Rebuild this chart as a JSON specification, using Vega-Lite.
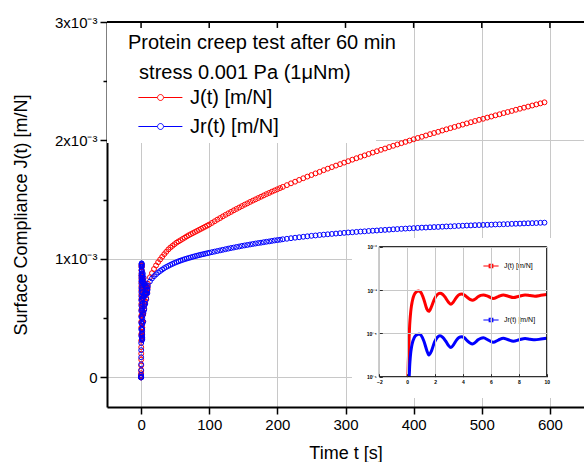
{
  "$schema": "https://vega.github.io/schema/vega-lite/v6.json",
  "width": 477,
  "height": 385,
  "autosize": {"type": "none"},
  "padding": {"left": 107, "top": 22, "right": 0, "bottom": 55},
  "background": "white",
  "config": {
    "view": {"stroke": null},
    "font": "Liberation Sans",
    "axis": {"labelFont": "Liberation Sans", "titleFont": "Liberation Sans", "labelColor": "black", "titleColor": "black"},
    "legend": {"labelFont": "Liberation Sans", "titleFont": "Liberation Sans"}
  },
  "datasets": {
    "main": [
      {"t":0,"J":0,"Jr":0},{"t":0.025,"J":0,"Jr":0},{"t":0.05,"J":0.01e-3,"Jr":0},{"t":0.075,"J":0.02e-3,"Jr":0.005e-3},
      {"t":0.1,"J":0.035e-3,"Jr":0.02e-3},{"t":0.125,"J":0.06e-3,"Jr":0.06e-3},{"t":0.15,"J":0.1e-3,"Jr":0.11e-3},{"t":0.175,"J":0.15e-3,"Jr":0.17e-3},
      {"t":0.2,"J":0.2e-3,"Jr":0.23e-3},{"t":0.225,"J":0.255e-3,"Jr":0.29e-3},{"t":0.25,"J":0.31e-3,"Jr":0.35e-3},{"t":0.275,"J":0.365e-3,"Jr":0.405e-3},
      {"t":0.3,"J":0.42e-3,"Jr":0.46e-3},{"t":0.325,"J":0.47e-3,"Jr":0.51e-3},{"t":0.35,"J":0.52e-3,"Jr":0.56e-3},{"t":0.375,"J":0.57e-3,"Jr":0.605e-3},
      {"t":0.4,"J":0.62e-3,"Jr":0.65e-3},{"t":0.425,"J":0.66e-3,"Jr":0.685e-3},{"t":0.45,"J":0.7e-3,"Jr":0.72e-3},{"t":0.475,"J":0.735e-3,"Jr":0.755e-3},
      {"t":0.5,"J":0.77e-3,"Jr":0.79e-3},{"t":0.525,"J":0.8e-3,"Jr":0.815e-3},{"t":0.55,"J":0.83e-3,"Jr":0.84e-3},{"t":0.575,"J":0.85e-3,"Jr":0.86e-3},
      {"t":0.6,"J":0.87e-3,"Jr":0.88e-3},{"t":0.65,"J":0.9e-3,"Jr":0.91e-3},{"t":0.7,"J":0.93e-3,"Jr":0.935e-3},{"t":0.75,"J":0.945e-3,"Jr":0.95e-3},
      {"t":0.8,"J":0.95e-3,"Jr":0.96e-3},{"t":0.85,"J":0.945e-3,"Jr":0.963e-3},{"t":0.9,"J":0.93e-3,"Jr":0.955e-3},{"t":0.95,"J":0.9e-3,"Jr":0.935e-3},
      {"t":1.0,"J":0.86e-3,"Jr":0.9e-3},{"t":1.05,"J":0.81e-3,"Jr":0.86e-3},{"t":1.1,"J":0.75e-3,"Jr":0.81e-3},{"t":1.15,"J":0.68e-3,"Jr":0.74e-3},
      {"t":1.2,"J":0.6e-3,"Jr":0.66e-3},{"t":1.25,"J":0.53e-3,"Jr":0.58e-3},{"t":1.3,"J":0.47e-3,"Jr":0.51e-3},{"t":1.35,"J":0.415e-3,"Jr":0.45e-3},
      {"t":1.4,"J":0.37e-3,"Jr":0.41e-3},{"t":1.45,"J":0.345e-3,"Jr":0.37e-3},{"t":1.5,"J":0.325e-3,"Jr":0.335e-3},{"t":1.55,"J":0.322e-3,"Jr":0.316e-3},
      {"t":1.6,"J":0.33e-3,"Jr":0.32e-3},{"t":1.65,"J":0.35e-3,"Jr":0.335e-3},{"t":1.7,"J":0.385e-3,"Jr":0.365e-3},{"t":1.75,"J":0.42e-3,"Jr":0.4e-3},
      {"t":1.8,"J":0.47e-3,"Jr":0.45e-3},{"t":1.85,"J":0.52e-3,"Jr":0.5e-3},{"t":1.9,"J":0.57e-3,"Jr":0.56e-3},{"t":1.95,"J":0.62e-3,"Jr":0.62e-3},
      {"t":2.0,"J":0.67e-3,"Jr":0.67e-3},{"t":2.05,"J":0.71e-3,"Jr":0.72e-3},{"t":2.1,"J":0.75e-3,"Jr":0.765e-3},{"t":2.15,"J":0.78e-3,"Jr":0.8e-3},
      {"t":2.2,"J":0.805e-3,"Jr":0.83e-3},{"t":2.25,"J":0.825e-3,"Jr":0.855e-3},{"t":2.3,"J":0.835e-3,"Jr":0.87e-3},{"t":2.35,"J":0.84e-3,"Jr":0.88e-3},
      {"t":2.55,"J":0.79e-3,"Jr":0.81e-3},{"t":2.75,"J":0.66e-3,"Jr":0.67e-3},{"t":2.95,"J":0.53e-3,"Jr":0.53e-3},{"t":3.14,"J":0.47e-3,"Jr":0.47e-3},
      {"t":3.33,"J":0.54e-3,"Jr":0.55e-3},{"t":3.52,"J":0.67e-3,"Jr":0.69e-3},{"t":3.71,"J":0.78e-3,"Jr":0.8e-3},{"t":3.9,"J":0.81e-3,"Jr":0.84e-3},
      {"t":4.1,"J":0.77e-3,"Jr":0.79e-3},{"t":4.3,"J":0.68e-3,"Jr":0.68e-3},{"t":4.5,"J":0.61e-3,"Jr":0.6e-3},{"t":4.69,"J":0.58e-3,"Jr":0.57e-3},
      {"t":4.88,"J":0.62e-3,"Jr":0.62e-3},{"t":5.08,"J":0.7e-3,"Jr":0.71e-3},{"t":5.27,"J":0.755e-3,"Jr":0.77e-3},{"t":5.46,"J":0.77e-3,"Jr":0.79e-3},
      {"t":5.82,"J":0.71e-3,"Jr":0.7e-3},{"t":6.17,"J":0.64e-3,"Jr":0.62e-3},{"t":6.53,"J":0.705e-3,"Jr":0.7e-3},{"t":6.89,"J":0.77e-3,"Jr":0.77e-3},
      {"t":7.25,"J":0.72e-3,"Jr":0.71e-3},{"t":7.61,"J":0.67e-3,"Jr":0.66e-3},{"t":8.03,"J":0.72e-3,"Jr":0.71e-3},{"t":8.45,"J":0.77e-3,"Jr":0.76e-3},
      {"t":8.8,"J":0.745e-3,"Jr":0.735e-3},{"t":9.16,"J":0.72e-3,"Jr":0.71e-3},{"t":9.58,"J":0.755e-3,"Jr":0.74e-3},{"t":10,"J":0.79e-3,"Jr":0.77e-3},
      {"t":13,"J":0.845e-3,"Jr":0.81e-3},{"t":16,"J":0.88e-3,"Jr":0.835e-3},{"t":19,"J":0.915e-3,"Jr":0.854e-3},{"t":22,"J":0.945e-3,"Jr":0.87e-3},
      {"t":25,"J":0.972e-3,"Jr":0.885e-3},{"t":28,"J":0.995e-3,"Jr":0.898e-3},{"t":31,"J":1.018e-3,"Jr":0.91e-3},{"t":34,"J":1.04e-3,"Jr":0.922e-3},
      {"t":37,"J":1.06e-3,"Jr":0.932e-3},{"t":40,"J":1.08e-3,"Jr":0.941e-3},{"t":43,"J":1.096e-3,"Jr":0.95e-3},{"t":46,"J":1.11e-3,"Jr":0.958e-3},
      {"t":49,"J":1.124e-3,"Jr":0.966e-3},{"t":52,"J":1.137e-3,"Jr":0.973e-3},{"t":55,"J":1.148e-3,"Jr":0.98e-3},{"t":58,"J":1.158e-3,"Jr":0.986e-3},
      {"t":61,"J":1.169e-3,"Jr":0.992e-3},{"t":64,"J":1.179e-3,"Jr":0.998e-3},{"t":67,"J":1.19e-3,"Jr":1.003e-3},{"t":70,"J":1.2e-3,"Jr":1.008e-3},
      {"t":73,"J":1.209e-3,"Jr":1.013e-3},{"t":76,"J":1.218e-3,"Jr":1.018e-3},{"t":79,"J":1.227e-3,"Jr":1.023e-3},{"t":82,"J":1.236e-3,"Jr":1.027e-3},
      {"t":85,"J":1.245e-3,"Jr":1.032e-3},{"t":88,"J":1.254e-3,"Jr":1.036e-3},{"t":91,"J":1.263e-3,"Jr":1.04e-3},{"t":94,"J":1.272e-3,"Jr":1.044e-3},
      {"t":97,"J":1.281e-3,"Jr":1.048e-3},{"t":100,"J":1.29e-3,"Jr":1.052e-3},{"t":104,"J":1.304e-3,"Jr":1.057e-3},{"t":108,"J":1.318e-3,"Jr":1.062e-3},
      {"t":112,"J":1.332e-3,"Jr":1.067e-3},{"t":116,"J":1.345e-3,"Jr":1.072e-3},{"t":120,"J":1.359e-3,"Jr":1.077e-3},{"t":124,"J":1.372e-3,"Jr":1.082e-3},
      {"t":128,"J":1.385e-3,"Jr":1.087e-3},{"t":132,"J":1.397e-3,"Jr":1.092e-3},{"t":136,"J":1.41e-3,"Jr":1.096e-3},{"t":140,"J":1.422e-3,"Jr":1.101e-3},
      {"t":144,"J":1.434e-3,"Jr":1.105e-3},{"t":148,"J":1.446e-3,"Jr":1.11e-3},{"t":152,"J":1.458e-3,"Jr":1.114e-3},{"t":156,"J":1.469e-3,"Jr":1.118e-3},
      {"t":160,"J":1.481e-3,"Jr":1.122e-3},{"t":164,"J":1.492e-3,"Jr":1.126e-3},{"t":168,"J":1.503e-3,"Jr":1.13e-3},{"t":172,"J":1.514e-3,"Jr":1.134e-3},
      {"t":176,"J":1.525e-3,"Jr":1.137e-3},{"t":180,"J":1.536e-3,"Jr":1.141e-3},{"t":184,"J":1.547e-3,"Jr":1.145e-3},{"t":188,"J":1.557e-3,"Jr":1.148e-3},
      {"t":192,"J":1.568e-3,"Jr":1.152e-3},{"t":196,"J":1.578e-3,"Jr":1.156e-3},{"t":200,"J":1.588e-3,"Jr":1.159e-3},{"t":204,"J":1.598e-3,"Jr":1.162e-3},
      {"t":208,"J":1.608e-3,"Jr":1.166e-3},{"t":214,"J":1.623e-3,"Jr":1.17e-3},{"t":220,"J":1.638e-3,"Jr":1.175e-3},{"t":226,"J":1.652e-3,"Jr":1.179e-3},
      {"t":232,"J":1.667e-3,"Jr":1.183e-3},{"t":238,"J":1.681e-3,"Jr":1.187e-3},{"t":244,"J":1.695e-3,"Jr":1.191e-3},{"t":250,"J":1.708e-3,"Jr":1.195e-3},
      {"t":256,"J":1.722e-3,"Jr":1.198e-3},{"t":262,"J":1.735e-3,"Jr":1.202e-3},{"t":268,"J":1.749e-3,"Jr":1.205e-3},{"t":274,"J":1.762e-3,"Jr":1.208e-3},
      {"t":280,"J":1.775e-3,"Jr":1.211e-3},{"t":286,"J":1.788e-3,"Jr":1.214e-3},{"t":292,"J":1.8e-3,"Jr":1.217e-3},{"t":298,"J":1.813e-3,"Jr":1.22e-3},
      {"t":304,"J":1.825e-3,"Jr":1.223e-3},{"t":310,"J":1.838e-3,"Jr":1.225e-3},{"t":316,"J":1.85e-3,"Jr":1.228e-3},{"t":322,"J":1.862e-3,"Jr":1.231e-3},
      {"t":328,"J":1.874e-3,"Jr":1.233e-3},{"t":334,"J":1.886e-3,"Jr":1.236e-3},{"t":340,"J":1.898e-3,"Jr":1.238e-3},{"t":346,"J":1.909e-3,"Jr":1.24e-3},
      {"t":352,"J":1.921e-3,"Jr":1.243e-3},{"t":358,"J":1.932e-3,"Jr":1.245e-3},{"t":364,"J":1.944e-3,"Jr":1.247e-3},{"t":370,"J":1.955e-3,"Jr":1.25e-3},
      {"t":376,"J":1.966e-3,"Jr":1.252e-3},{"t":382,"J":1.977e-3,"Jr":1.254e-3},{"t":388,"J":1.988e-3,"Jr":1.256e-3},{"t":394,"J":1.999e-3,"Jr":1.258e-3},
      {"t":400,"J":2.01e-3,"Jr":1.26e-3},{"t":406,"J":2.021e-3,"Jr":1.262e-3},{"t":412,"J":2.031e-3,"Jr":1.264e-3},{"t":418,"J":2.042e-3,"Jr":1.265e-3},
      {"t":424,"J":2.053e-3,"Jr":1.267e-3},{"t":430,"J":2.063e-3,"Jr":1.269e-3},{"t":436,"J":2.073e-3,"Jr":1.27e-3},{"t":442,"J":2.084e-3,"Jr":1.272e-3},
      {"t":448,"J":2.094e-3,"Jr":1.274e-3},{"t":454,"J":2.104e-3,"Jr":1.275e-3},{"t":460,"J":2.114e-3,"Jr":1.277e-3},{"t":466,"J":2.124e-3,"Jr":1.279e-3},
      {"t":472,"J":2.134e-3,"Jr":1.28e-3},{"t":478,"J":2.144e-3,"Jr":1.282e-3},{"t":484,"J":2.154e-3,"Jr":1.283e-3},{"t":490,"J":2.164e-3,"Jr":1.285e-3},
      {"t":496,"J":2.174e-3,"Jr":1.286e-3},{"t":502,"J":2.183e-3,"Jr":1.287e-3},{"t":508,"J":2.193e-3,"Jr":1.288e-3},{"t":514,"J":2.202e-3,"Jr":1.289e-3},
      {"t":520,"J":2.212e-3,"Jr":1.291e-3},{"t":526,"J":2.221e-3,"Jr":1.292e-3},{"t":532,"J":2.231e-3,"Jr":1.293e-3},{"t":538,"J":2.24e-3,"Jr":1.294e-3},
      {"t":544,"J":2.249e-3,"Jr":1.296e-3},{"t":550,"J":2.259e-3,"Jr":1.297e-3},{"t":556,"J":2.268e-3,"Jr":1.298e-3},{"t":562,"J":2.277e-3,"Jr":1.3e-3},
      {"t":568,"J":2.286e-3,"Jr":1.301e-3},{"t":574,"J":2.295e-3,"Jr":1.302e-3},{"t":580,"J":2.304e-3,"Jr":1.303e-3},{"t":586,"J":2.313e-3,"Jr":1.305e-3},
      {"t":592,"J":2.322e-3,"Jr":1.306e-3}
    ],
    "inset": [
      {"t":0.05,"J":1.0e-5,"Jr":null},{"t":0.075,"J":2.0e-5,"Jr":null},{"t":0.1,"J":3.5e-5,"Jr":null},{"t":0.125,"J":6.0e-5,"Jr":null},
      {"t":0.14,"J":8.5e-5,"Jr":1.0e-5},{"t":0.15,"J":1.0e-4,"Jr":1.1e-5},{"t":0.175,"J":1.5e-4,"Jr":1.7e-5},{"t":0.2,"J":2.0e-4,"Jr":2.3e-5},
      {"t":0.25,"J":3.1e-4,"Jr":3.5e-5},{"t":0.3,"J":4.2e-4,"Jr":4.6e-5},{"t":0.35,"J":5.2e-4,"Jr":5.6e-5},{"t":0.4,"J":6.2e-4,"Jr":6.5e-5},
      {"t":0.45,"J":7.0e-4,"Jr":7.2e-5},{"t":0.5,"J":7.7e-4,"Jr":7.9e-5},{"t":0.55,"J":8.3e-4,"Jr":8.4e-5},{"t":0.6,"J":8.7e-4,"Jr":8.8e-5},
      {"t":0.7,"J":9.3e-4,"Jr":9.35e-5},{"t":0.8,"J":9.5e-4,"Jr":9.6e-5},{"t":0.9,"J":9.3e-4,"Jr":9.55e-5},{"t":1.0,"J":8.6e-4,"Jr":9.0e-5},
      {"t":1.2,"J":6.0e-4,"Jr":6.6e-5},{"t":1.4,"J":3.7e-4,"Jr":4.1e-5},{"t":1.55,"J":3.22e-4,"Jr":3.16e-5},{"t":1.75,"J":4.2e-4,"Jr":4.0e-5},
      {"t":1.95,"J":6.2e-4,"Jr":6.2e-5},{"t":2.15,"J":7.8e-4,"Jr":8.0e-5},{"t":2.35,"J":8.4e-4,"Jr":8.8e-5},{"t":2.55,"J":7.9e-4,"Jr":8.1e-5},
      {"t":2.75,"J":6.6e-4,"Jr":6.7e-5},{"t":2.95,"J":5.3e-4,"Jr":5.3e-5},{"t":3.14,"J":4.7e-4,"Jr":4.7e-5},{"t":3.33,"J":5.4e-4,"Jr":5.5e-5},
      {"t":3.52,"J":6.7e-4,"Jr":6.9e-5},{"t":3.71,"J":7.8e-4,"Jr":8.0e-5},{"t":3.9,"J":8.1e-4,"Jr":8.4e-5},{"t":4.1,"J":7.7e-4,"Jr":7.9e-5},
      {"t":4.3,"J":6.8e-4,"Jr":6.8e-5},{"t":4.5,"J":6.1e-4,"Jr":6.0e-5},{"t":4.69,"J":5.8e-4,"Jr":5.7e-5},{"t":4.88,"J":6.2e-4,"Jr":6.2e-5},
      {"t":5.08,"J":7.0e-4,"Jr":7.1e-5},{"t":5.27,"J":7.55e-4,"Jr":7.7e-5},{"t":5.46,"J":7.7e-4,"Jr":7.9e-5},{"t":5.82,"J":7.1e-4,"Jr":7.0e-5},
      {"t":6.17,"J":6.4e-4,"Jr":6.2e-5},{"t":6.53,"J":7.05e-4,"Jr":7.0e-5},{"t":6.89,"J":7.7e-4,"Jr":7.7e-5},{"t":7.25,"J":7.2e-4,"Jr":7.1e-5},
      {"t":7.61,"J":6.7e-4,"Jr":6.6e-5},{"t":8.03,"J":7.2e-4,"Jr":7.1e-5},{"t":8.45,"J":7.7e-4,"Jr":7.6e-5},{"t":8.8,"J":7.45e-4,"Jr":7.35e-5},
      {"t":9.16,"J":7.2e-4,"Jr":7.1e-5},{"t":9.58,"J":7.55e-4,"Jr":7.4e-5},{"t":10,"J":7.9e-4,"Jr":7.7e-5}
    ]
  },
  "layer": [
    {
      "layer": [
        {
          "data": {"values": [{}]},
          "mark": {"type": "rect", "fill": "white"},
          "encoding": {"x": {"datum": -50}, "x2": {"datum": 344.8}, "y": {"datum": 0.003}, "y2": {"datum": 0.001979}}
        },
        {
          "data": {"values": [{}]},
          "mark": {"type": "rect", "fill": "white"},
          "encoding": {"x": {"datum": 309.5}, "x2": {"datum": 650}, "y": {"datum": 0.001177}, "y2": {"datum": -0.000174}}
        },
        {
          "data": {"name": "main"},
          "mark": {"type": "point", "shape": "circle", "filled": false, "size": 24, "strokeWidth": 1, "opacity": 1},
          "encoding": {
            "x": {
              "field": "t", "type": "quantitative",
              "scale": {"domain": [-50, 650], "nice": false, "zero": false},
              "axis": {
                "orient": "bottom", "title": "Time t [s]",
                "values": [0, 50, 100, 150, 200, 250, 300, 350, 400, 450, 500, 550, 600],
                "labelExpr": "datum.value % 100 === 0 ? datum.label : ''",
                "tickSize": {"condition": {"test": "datum.value % 100 === 0", "value": 7}, "value": 4},
                "gridColor": {"condition": {"test": "datum.value % 100 !== 0", "value": "transparent"}, "value": "#c8c8c8"},
                "grid": true, "gridWidth": 1,
                "domainColor": "black", "domainWidth": 2, "tickColor": "black", "tickWidth": 1.5,
                "labelFontSize": 15, "labelPadding": 3, "labelFlush": false, "labelOverlap": false,
                "titleFontSize": 18, "titleFontWeight": "normal", "titlePadding": 12
              }
            },
            "y": {
              "field": "J", "type": "quantitative",
              "scale": {"domain": [-0.00025, 0.003], "nice": false, "zero": false},
              "axis": {
                "orient": "left", "title": "Surface Compliance J(t) [m/N]",
                "values": [0, 0.0005, 0.001, 0.0015, 0.002, 0.0025, 0.003],
                "labelExpr": "datum.value == 0 ? '0' : (round(datum.value*2000) % 2 == 1 ? '' : round(datum.value*1000) + 'x10\u207b\u00b3')",
                "tickSize": {"condition": {"test": "round(datum.value*2000) % 2 == 1", "value": 4}, "value": 7},
                "gridColor": {"condition": {"test": "round(datum.value*2000) % 2 == 1", "value": "transparent"}, "value": "#c8c8c8"},
                "grid": true, "gridWidth": 1,
                "domainColor": "black", "domainWidth": 2, "tickColor": "black", "tickWidth": 1.5,
                "labelFontSize": 15, "labelPadding": 3, "labelOverlap": false, "labelFlush": false,
                "titleFontSize": 18, "titleFontWeight": "normal", "titlePadding": 24
              }
            },
            "color": {
              "datum": "J(t) [m/N]",
              "scale": {"domain": ["J(t) [m/N]", "Jr(t) [m/N]"], "range": ["#ff0000", "#0000ff"]},
              "legend": {
                "orient": "none", "legendX": 21, "legendY": 11, "padding": 0,
                "title": ["Protein creep test after 60 min", "\u200b\u00a0\u00a0stress 0.001 Pa (1\u03bcNm)"],
                "titleFontSize": 20, "titleFontWeight": "normal", "titleColor": "black",
                "titleLineHeight": 30, "titleLimit": 0, "titlePadding": 3,
                "labelFontSize": 20, "labelColor": "black", "labelOffset": 39, "labelLimit": 0,
                "symbolType": "M-0.1,0H1.6M2.22,0H3.9M2.18,0A0.27,0.27,0,1,1,1.64,0A0.27,0.27,0,1,1,2.18,0",
                "symbolSize": 484, "symbolStrokeWidth": 1, "rowPadding": 7
              }
            }
          }
        },
        {
          "data": {"name": "main"},
          "mark": {"type": "point", "shape": "circle", "filled": false, "size": 24, "strokeWidth": 1, "opacity": 1},
          "encoding": {
            "x": {"field": "t", "type": "quantitative", "title": "Time t [s]"},
            "y": {"field": "Jr", "type": "quantitative", "title": "Surface Compliance J(t) [m/N]"},
            "color": {"datum": "Jr(t) [m/N]"}
          }
        },
        {
          "data": {"values": [{"tk": 0}, {"tk": 100}, {"tk": 200}, {"tk": 300}, {"tk": 400}, {"tk": 500}, {"tk": 600}]},
          "mark": {"type": "rule", "color": "black", "strokeWidth": 1.5},
          "encoding": {"x": {"field": "tk", "type": "quantitative", "title": "Time t [s]"}, "y": {"datum": 0.003}, "y2": {"datum": 0.00295}}
        },
        {
          "data": {"values": [{}]},
          "mark": {"type": "rule", "color": "black", "strokeWidth": 2},
          "encoding": {"y": {"datum": 0.003}}
        }
      ]
    },
    {
      "layer": [
        {
          "data": {"name": "inset"},
          "mark": {"type": "line", "strokeWidth": 3, "interpolate": "monotone"},
          "encoding": {
            "x": {
              "field": "t", "type": "quantitative",
              "scale": {"domain": [-2, 10], "range": [272.3, 439.7], "nice": false, "zero": false},
              "axis": {
                "orient": "top", "offset": -354.7, "title": null, "zindex": 1,
                "values": [-2, -1, 0, 1, 2, 3, 4, 5, 6, 7, 8, 9, 10],
                "labelExpr": "datum.value % 2 === 0 ? datum.label : ''",
                "tickSize": 3, "tickColor": "black", "tickWidth": 0.8, "domain": false,
                "grid": true, "gridWidth": 1,
                "gridColor": {"condition": {"test": "datum.value % 2 !== 0", "value": "transparent"}, "value": "#c8c8c8"},
                "labelFontSize": 5, "labelFontWeight": "bold", "labelBaseline": "top", "labelPadding": -6,
                "labelFlush": false, "labelOverlap": false
              }
            },
            "y": {
              "field": "J", "type": "quantitative",
              "scale": {"type": "log", "domain": [1e-5, 1e-2], "range": [354.7, 224.7], "nice": false},
              "axis": {
                "orient": "left", "offset": -272.3, "title": null, "zindex": 1,
                "values": [1e-5, 1e-4, 1e-3, 1e-2],
                "labelExpr": "datum.value < 0.00003 ? '10\u207b\u2075' : (datum.value < 0.0003 ? '10\u207b\u2074' : (datum.value < 0.003 ? '10\u207b\u00b3' : '10\u207b\u00b2'))",
                "tickSize": -3, "tickColor": "black", "tickWidth": 0.8, "domain": false,
                "grid": true, "gridWidth": 1, "gridColor": "#c8c8c8",
                "labelFontSize": 5, "labelFontWeight": "bold", "labelPadding": 6,
                "labelFlush": false, "labelOverlap": false
              }
            },
            "color": {
              "datum": "J(t) [m/N]",
              "scale": {"domain": ["J(t) [m/N]", "Jr(t) [m/N]"], "range": ["#ff0000", "#0000ff"]},
              "legend": {
                "orient": "none", "legendX": 375, "legendY": 235, "padding": 0, "title": null,
                "labelFontSize": 7, "labelColor": "black", "labelOffset": 4,
                "symbolType": "M-0.95,0H0.95M-0.22,-0.22H0.22V0.22H-0.22Z",
                "symbolSize": 256, "symbolStrokeWidth": 1.2, "rowPadding": 40
              }
            }
          }
        },
        {
          "data": {"name": "inset"},
          "mark": {"type": "line", "strokeWidth": 3, "interpolate": "monotone"},
          "encoding": {
            "x": {"field": "t", "type": "quantitative", "title": null},
            "y": {"field": "Jr", "type": "quantitative", "title": null},
            "color": {"datum": "Jr(t) [m/N]"}
          }
        },
        {
          "data": {"values": [{}]},
          "mark": {"type": "rect", "fill": "transparent", "stroke": "black", "strokeWidth": 1},
          "encoding": {"x": {"datum": -2}, "x2": {"datum": 10}, "y": {"datum": 1e-5}, "y2": {"datum": 1e-2}}
        }
      ]
    }
  ],
  "resolve": {"scale": {"x": "independent", "y": "independent", "color": "independent"}}
}
